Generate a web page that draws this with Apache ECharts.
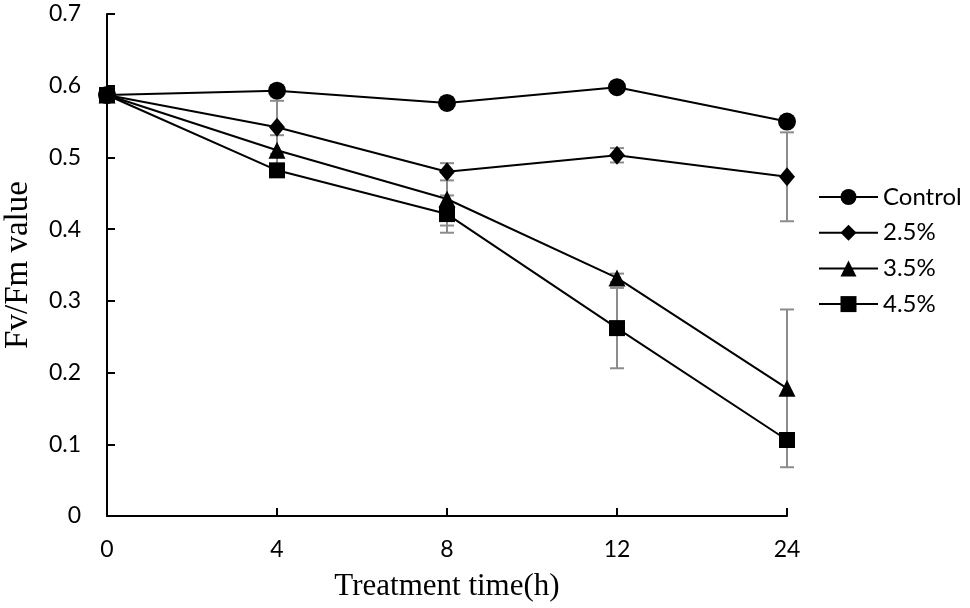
<!DOCTYPE html>
<html>
<head>
<meta charset="utf-8">
<title>Fv/Fm value</title>
<style>
html,body{margin:0;padding:0;background:#fff;}
#chart{width:970px;height:608px;}
</style>
</head>
<body>
<div id="chart"></div>
<script src="https://cdn.jsdelivr.net/npm/echarts@6/dist/echarts.min.js"></script>
<script>
// data
var times = ['0', '4', '8', '12', '24'];
var yTicks = [0, 0.1, 0.2, 0.3, 0.4, 0.5, 0.6, 0.7];

var control = [0.587, 0.593, 0.576, 0.598, 0.550];
var p25 = [0.587, 0.542, 0.480, 0.503, 0.473];
var p35 = [0.587, 0.510, 0.442, 0.332, 0.178];
var p45 = [0.587, 0.482, 0.421, 0.262, 0.106];

var controlErr = [0, 0.004, 0.004, 0.004, 0.006];
var p25Err = [0, 0.037, 0.012, 0.010, 0.062];
var p35Err = [0, 0.021, 0.037, 0.006, 0.110];
var p45Err = [0, 0.008, 0.026, 0.056, 0.008];

var names = ['Control', '2.5%', '3.5%', '4.5%'];
var symbols = ['circle', 'diamond', 'triangle', 'rect'];
var sizes = [18, [16, 19], 17, 16];
var values = [control, p25, p35, p45];
var errs = [controlErr, p25Err, p35Err, p45Err];

var labelFont = 'Lato';
var titleFont = '"Liberation Serif", "Times New Roman", serif';

var myChart = echarts.init(document.getElementById('chart'));

// error bars: [index, low, high]
var errData = [];
for (var s = 0; s < values.length; s++) {
    for (var i = 0; i < times.length; i++) {
        if (errs[s][i] > 0) {
            errData.push([i, values[s][i] - errs[s][i], values[s][i] + errs[s][i]]);
        }
    }
}

function renderErr(params, api) {
    var lo = api.coord([api.value(0), api.value(1)]);
    var hi = api.coord([api.value(0), api.value(2)]);
    var cap = 7;
    var st = {stroke: '#8c8c8c', lineWidth: 2};
    return {
        type: 'group',
        children: [
            {type: 'line', shape: {x1: lo[0], y1: lo[1], x2: hi[0], y2: hi[1]}, style: st},
            {type: 'line', shape: {x1: lo[0] - cap, y1: lo[1], x2: lo[0] + cap, y2: lo[1]}, style: st},
            {type: 'line', shape: {x1: hi[0] - cap, y1: hi[1], x2: hi[0] + cap, y2: hi[1]}, style: st}
        ]
    };
}

var series = [{
    type: 'custom',
    name: 'err',
    renderItem: renderErr,
    data: errData,
    z: 1,
    silent: true
}];
for (var k = 0; k < names.length; k++) {
    series.push({
        type: 'line',
        name: names[k],
        data: values[k],
        symbol: symbols[k],
        symbolSize: sizes[k],
        showAllSymbol: true,
        lineStyle: {color: '#000', width: 2},
        itemStyle: {color: '#000'},
        z: 2
    });
}

var option = {
    animation: false,
    backgroundColor: '#fff',
    grid: {left: 107, right: 183, top: 14, bottom: 92, outerBoundsMode: 'none'},
    legend: {
        data: names,
        orient: 'vertical',
        left: 813,
        top: 180,
        itemWidth: 59,
        itemHeight: 20,
        itemGap: 11.7,
        textStyle: {fontFamily: labelFont, fontSize: 24, color: '#000'}
    },
    xAxis: {
        type: 'category',
        data: times,
        boundaryGap: false,
        name: 'Treatment time(h)',
        nameLocation: 'middle',
        nameGap: 55,
        nameTextStyle: {fontFamily: titleFont, fontSize: 31, color: '#000'},
        axisLine: {lineStyle: {color: '#000', width: 2}},
        axisTick: {inside: true, length: 8, lineStyle: {color: '#000', width: 2}},
        axisLabel: {fontFamily: labelFont, fontSize: 23, color: '#000', margin: 22},
        splitLine: {show: false}
    },
    yAxis: {
        type: 'value',
        min: yTicks[0],
        max: yTicks[yTicks.length - 1],
        interval: 0.1,
        name: 'Fv/Fm value',
        nameLocation: 'middle',
        nameGap: 72,
        nameTextStyle: {fontFamily: titleFont, fontSize: 33, color: '#000'},
        axisLine: {show: true, lineStyle: {color: '#000', width: 2}},
        axisTick: {show: true, inside: true, length: 8, lineStyle: {color: '#000', width: 2}},
        axisLabel: {
            fontFamily: labelFont, fontSize: 23, color: '#000', margin: 26,
            formatter: function (v) { return String(Math.round(v * 10) / 10); }
        },
        splitLine: {show: false}
    },
    series: series
};
myChart.setOption(option);
</script>
</body>
</html>
